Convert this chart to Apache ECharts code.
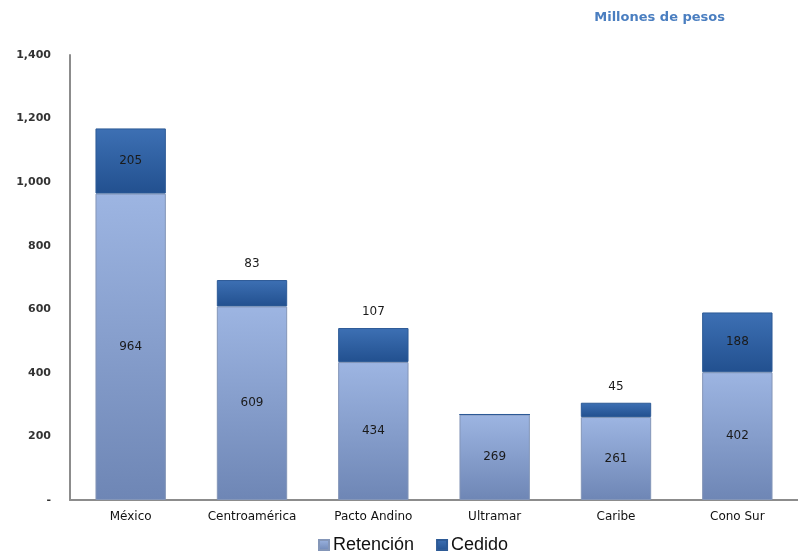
<!DOCTYPE html>
<html>
<head>
<meta charset="utf-8">
<script src="https://cdn.jsdelivr.net/npm/echarts@6/dist/echarts.min.js"></script>
<style>
  html, body { margin: 0; padding: 0; background: #fff; }
  #chart { width: 798px; height: 560px; }
</style>
</head>
<body>
<div id="chart"></div>
<script>
// datos
const regiones = ["México", "Centroamérica", "Pacto Andino", "Ultramar", "Caribe", "Cono Sur"];
const retencion = [964, 609, 434, 269, 261, 402];
const cedido = [205, 83, 107, 0, 45, 188];
const yTicks = [0, 200, 400, 600, 800, 1000, 1200, 1400];

const fuente = "DejaVu Sans, Verdana, sans-serif";

const gradRet = new echarts.graphic.LinearGradient(0, 0, 0, 1, [
  { offset: 0, color: "#9DB5E2" },
  { offset: 1, color: "#6E86B5" },
]);
const gradCed = new echarts.graphic.LinearGradient(0, 0, 0, 1, [
  { offset: 0, color: "#3D70B4" },
  { offset: 1, color: "#22508F" },
]);

const chart = echarts.init(document.getElementById("chart"));

chart.setOption({
  animation: false,
  title: {
    text: "Millones de pesos",
    right: 68,
    top: 6,
    textStyle: { fontFamily: fuente, fontSize: 13, fontWeight: "bold", color: "#4A7EC0" },
  },
  legend: {
    bottom: 1,
    left: 313,
    icon: "rect",
    itemWidth: 10,
    itemHeight: 10,
    itemGap: 22,
    textStyle: { fontFamily: "Liberation Sans, Arial, sans-serif", fontSize: 18, color: "#111", padding: [0, 0, 0, -1] },
    data: ["Retención", "Cedido"],
  },
  grid: { left: 70, right: -10, top: 55, bottom: 60 },
  xAxis: {
    type: "category",
    data: regiones,
    axisLine: { lineStyle: { color: "#8C8C8C", width: 2 } },
    axisTick: { show: false },
    axisLabel: { fontFamily: fuente, fontSize: 12, color: "#111", margin: 11 },
  },
  yAxis: {
    type: "value",
    min: yTicks[0],
    max: yTicks[yTicks.length - 1],
    interval: 200,
    splitLine: { show: false },
    axisLine: { show: true, lineStyle: { color: "#8C8C8C", width: 2 } },
    axisTick: { show: false },
    axisLabel: {
      fontFamily: fuente,
      fontSize: 11,
      fontWeight: "bold",
      color: "#333",
      margin: 19,
      formatter: (v) => (v === 0 ? "-" : v.toLocaleString("en-US")),
    },
  },
  series: [
    {
      name: "Retención",
      type: "bar",
      stack: "total",
      barWidth: "58%",
      data: retencion,
      itemStyle: { color: gradRet, borderColor: "#8496B8", borderWidth: 1 },
      label: {
        show: true,
        position: "inside",
        fontFamily: fuente,
        fontSize: 12,
        color: "#1A1A1A",
      },
    },
    {
      name: "Cedido",
      type: "bar",
      stack: "total",
      barWidth: "58%",
      // etiquetas pequeñas van encima de la barra
      data: cedido.map((v) => ({
        value: v,
        label: { show: v > 0, position: v < 150 ? "top" : "inside" },
      })),
      itemStyle: { color: gradCed, borderColor: "#2D5A96", borderWidth: 1 },
      label: {
        fontFamily: fuente,
        fontSize: 12,
        color: "#1A1A1A",
        distance: 10,
      },
    },
  ],
});
</script>
</body>
</html>
